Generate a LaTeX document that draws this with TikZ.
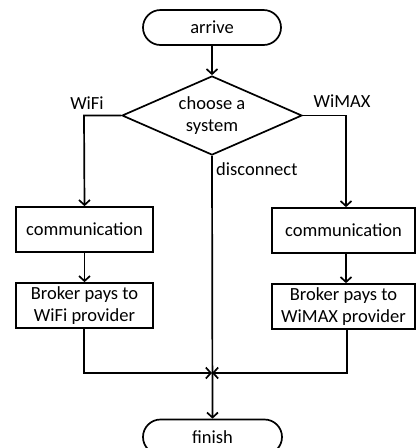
\documentclass[tikz,border=0pt]{standalone}
\usepackage{fontspec}
\setmainfont{Carlito}
\usetikzlibrary{arrows.meta,shapes.geometric,shapes.misc}
\begin{document}
\begin{tikzpicture}[x=1pt,y=-1pt,
  every node/.style={font=\fontsize{18.5}{22.5}\selectfont, inner sep=0pt},
  line/.style={line width=1.7pt},
  arr/.style={line, -{Straight Barb[length=5pt,width=11pt,line width=1.7pt]}},
  term/.style={rounded rectangle, draw, line width=1.7pt, minimum height=35pt},
  proc/.style={rectangle, draw, line width=1.7pt, align=center, minimum height=45pt},
  decision/.style={diamond, draw, line width=1.7pt, align=center, aspect=2.28, minimum width=180pt, minimum height=79pt}
]
\useasboundingbox (0,0) rectangle (416,448);
\node[term, minimum width=138pt] (arrive) at (212,27.5) {arrive};
\node[decision] (dia) at (212,115.5) {\raisebox{-2pt}{\parbox{80pt}{\centering choose a\\system}}};
\node[proc, minimum width=137pt] (comm1) at (84.5,229.5) {communication};
\node[proc, minimum width=137pt] (broker1) at (84.5,305.5) {Broker pays to\\WiFi provider};
\node[proc, minimum width=143pt] (comm2) at (343.5,230.5) {communication};
\node[proc, minimum width=143pt] (broker2) at (343.5,306.5) {Broker pays to\\WiMAX provider};
\node[term, minimum width=139pt] (finish) at (212.5,437) {finish};

\node (wifi) at (87,103) {WiFi};
\node (wimax) at (342,101) {WiMAX};
\node[anchor=west] (disc) at (216,169) {disconnect};

\coordinate (lx) at (84,115.5);
\coordinate (rx) at (346,115.5);
\coordinate (m) at (212,373);
\coordinate (lb) at (84,373);
\coordinate (rb) at (347,373);

\draw[arr] (arrive) -- (dia);
\draw[arr] (dia.west) -- (lx) -- (comm1.north);
\draw[arr] (dia.east) -- (rx) -- (rx |- comm2.north);
\draw[arr] (comm1) -- (broker1);
\draw[arr] (rx |- comm2.south) -- (rx |- broker2.north);
\draw[arr] (dia.south) -- (finish.north);
\draw[arr] (lb |- broker1.south) -- (lb) -- (m);
\draw[arr] (rb |- broker2.south) -- (rb) -- (m);
\end{tikzpicture}
\end{document}
